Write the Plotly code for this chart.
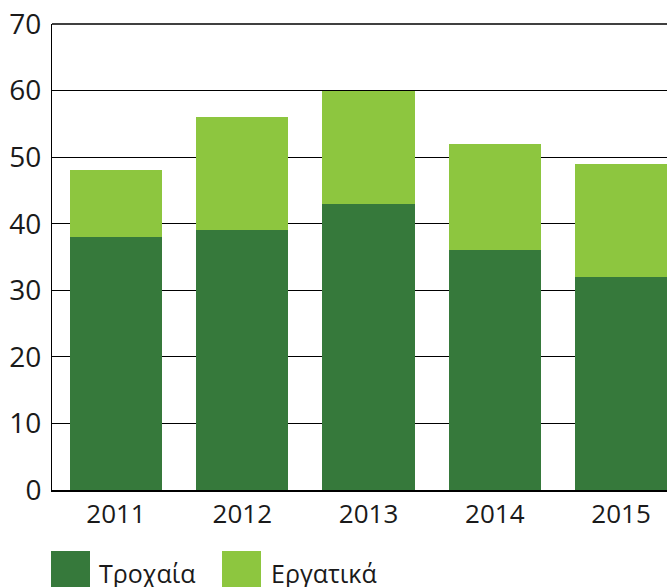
import plotly.graph_objects as go

years = ["2011", "2012", "2013", "2014", "2015"]
road = [38, 39, 43, 36, 32]          # Τροχαία
work = [10, 17, 17, 16, 17]          # Εργατικά
series_names = ["Τροχαία", "Εργατικά"]
colors = ["#36793b", "#8dc63f"]
y_ticks = [0, 10, 20, 30, 40, 50, 60, 70]

FONT = "Open Sans"

fig = go.Figure()
fig.add_trace(go.Bar(x=years, y=road, name=series_names[0], marker=dict(color=colors[0], line=dict(width=0)), showlegend=False))
fig.add_trace(go.Bar(x=years, y=work, name=series_names[1], marker=dict(color=colors[1], line=dict(width=0)), showlegend=False))

W, H = 667, 587
ml, mr, mt, mb = 52, 0, 24, 97
pw, ph = W - ml - mr, H - mt - mb

def px_x(x):
    return (x - ml) / pw

def px_y(y):
    return (H - mb - y) / ph

# top gridline (at the upper end of the y range, which plotly omits)
shapes = [dict(type="line", xref="paper", yref="paper", x0=0, x1=1,
               y0=1, y1=1, line=dict(color="black", width=1.5), layer="above")]
annotations = []
legend_items = [(51, 90, 97), (222, 261, 269)]
for (x0, x1, tx), name, col in zip(legend_items, series_names, colors):
    shapes.append(dict(type="rect", xref="paper", yref="paper",
                       x0=px_x(x0), x1=px_x(x1), y0=px_y(551), y1=px_y(600),
                       fillcolor=col, line=dict(width=0)))
    annotations.append(dict(xref="paper", yref="paper", x=px_x(tx), y=px_y(573),
                            xanchor="left", yanchor="middle", text=name, showarrow=False,
                            font=dict(family=FONT, size=25, color="#1a1a1a")))

fig.update_layout(
    barmode="stack",
    bargap=0.27,
    width=W, height=H,
    margin=dict(l=ml, r=mr, t=mt, b=mb, pad=0),
    plot_bgcolor="white", paper_bgcolor="white",
    font=dict(family=FONT, size=25, color="#1a1a1a"),
    shapes=shapes,
    annotations=annotations,
    xaxis=dict(type="category", range=[-0.507, 4.364], showgrid=False,
               showline=True, linecolor="black", linewidth=2, ticks="",
               tickfont=dict(size=26), ticklabelstandoff=0),
    yaxis=dict(range=[0, 70], tickvals=y_ticks, showgrid=True, gridcolor="black",
               gridwidth=1, showline=True, linecolor="black", linewidth=1,
               zeroline=False, ticks="", tickfont=dict(size=28), ticklabelstandoff=4),
)

fig.write_html("out.html",
               config={"displayModeBar": False},
               post_script="document.body.style.margin='0';document.body.style.overflow='hidden';")
